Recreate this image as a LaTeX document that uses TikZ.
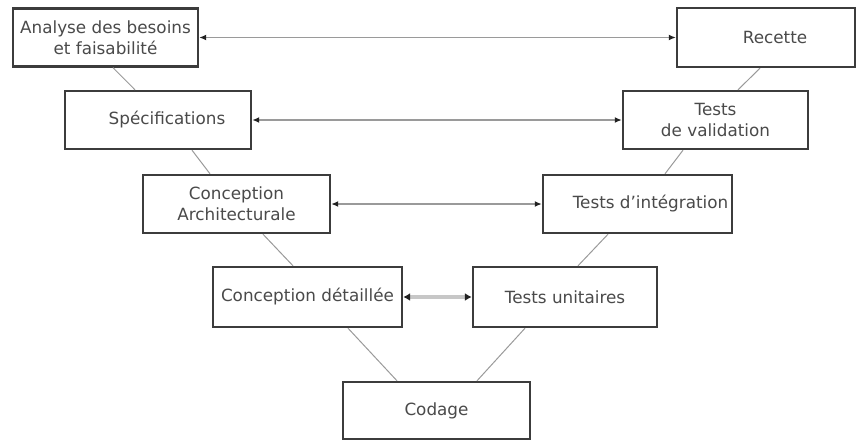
\documentclass[tikz,border=0pt]{standalone}
\usepackage{fontspec}
\setmainfont{DejaVu Sans}
\usetikzlibrary{arrows.meta}
\definecolor{boxline}{HTML}{3C3C3C}
\definecolor{txt}{HTML}{4A4A4A}
\definecolor{link}{HTML}{9A9A9A}
\definecolor{tip}{HTML}{222222}
\begin{document}
\begin{tikzpicture}[x=1pt,y=-1pt,
  phase/.style={draw=boxline,line width=2.4pt,fill=white,rectangle,
    minimum width=#1,minimum height=58pt,inner sep=0pt,align=center,
    text=txt,font=\fontsize{16.8}{21}\selectfont},
  phase/.default=186pt,
  vlink/.style={draw=link,line width=1pt},
  trace/.style={draw=link,line width=1.6pt,
    {Latex[length=7pt,width=6pt,color=tip]}-{Latex[length=7pt,width=6pt,color=tip]}},
  tracewide/.style={draw=black!22,line width=3.5pt,
    {Latex[length=7pt,width=8pt,color=tip]}-{Latex[length=7pt,width=8pt,color=tip]}}]
\useasboundingbox (0,0) rectangle (856,442);

% left branch of the V
\node[phase=185pt] (ana) at (105.5,37.5) {Analyse des besoins\\et faisabilité};
\node[phase=186pt] (spec) at (158,120) {\hspace*{18pt}Spécifications};
\node[phase=187pt] (arch) at (236.5,204) {Conception\\Architecturale};
\node[phase=189pt,minimum height=60pt] (det) at (307.5,297) {Conception détaillée};

% bottom of the V
\node[phase=187pt,minimum height=57pt] (cod) at (436.5,410.5) {Codage};

% right branch of the V
\node[phase=184pt,minimum height=60pt] (tu) at (565,297) {Tests unitaires};
\node[phase=189pt] (ti) at (637.5,204) {\hspace*{26pt}Tests d'intégration};
\node[phase=185pt] (tv) at (715.5,120) {Tests\\de validation};
\node[phase=178pt,minimum height=59pt] (rec) at (766,37.5) {\hspace*{18pt}Recette};

% chaining lines
\draw[vlink] ([xshift=7.5pt]ana.south) -- ([xshift=-23pt]spec.north);
\draw[vlink] ([xshift=34pt]spec.south) -- ([xshift=-26.5pt]arch.north);
\draw[vlink] ([xshift=26.5pt]arch.south) -- ([xshift=-14.5pt]det.north);
\draw[vlink] ([xshift=40.5pt]det.south) -- ([xshift=-39.5pt]cod.north);
\draw[vlink] ([xshift=40.5pt]cod.north) -- ([xshift=-40pt]tu.south);
\draw[vlink] ([xshift=13pt]tu.north) -- ([xshift=-29.5pt]ti.south);
\draw[vlink] ([xshift=27.5pt]ti.north) -- ([xshift=-32.5pt]tv.south);
\draw[vlink] ([xshift=22.5pt]tv.north) -- ([xshift=-6pt]rec.south);

% verification links between matching phases
\draw[trace] (ana.east) -- (rec.west);
\draw[trace] (spec.east) -- (tv.west);
\draw[trace] (arch.east) -- (ti.west);
\draw[tracewide] (det.east) -- (tu.west);
\end{tikzpicture}
\end{document}
